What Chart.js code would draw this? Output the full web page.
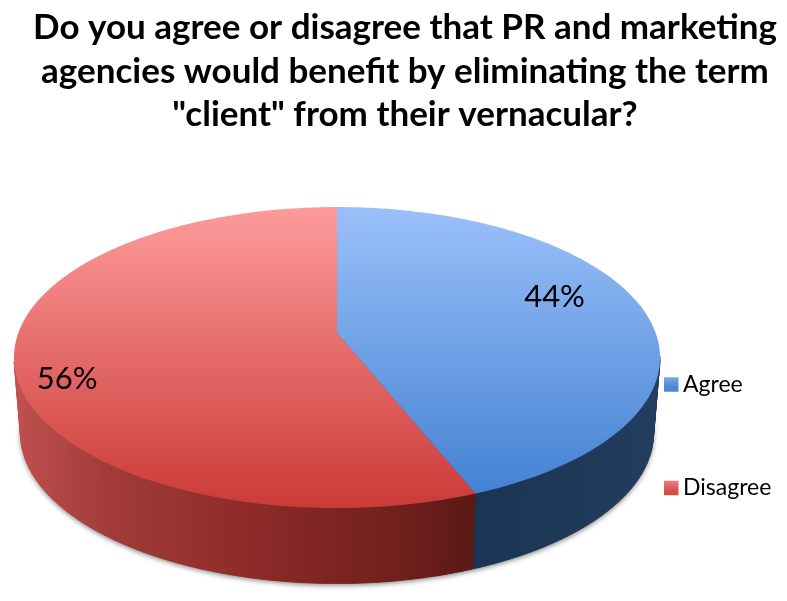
<!DOCTYPE html>
<html>
<head>
<meta charset="utf-8">
<title>Agree or disagree</title>
<script src="https://cdn.jsdelivr.net/npm/chart.js@4"></script>
<style>
  html, body { margin: 0; background: #fff; }
  canvas { display: block; }
</style>
</head>
<body>
<canvas id="pie3d" width="787" height="601"></canvas>
<script>
// data
const categories = ["Agree", "Disagree"];
const shares = [44, 56];
const titleLines = [
  "Do you agree or disagree that PR and marketing",
  "agencies would benefit by eliminating the term",
  "\"client\" from their vernacular?"
];

// ========= Look of the tilted pie =========
const FONT = "Lato, 'Open Sans', sans-serif";
const VIEW = { cx: 337, cy: 333, a: 318.7, b: 146.5, k: 0.163, depth: 75.5, floorScale: 0.98 };
const topColors = [["#9bc0fa", "#3f7fd0"], ["#fe9b9b", "#cb3a37"]];
const wallColors = [
  [[0, "#1a3454"], [1, "#223d5d"]],
  [[0, "#c0504e"], [0.2, "#a33c39"], [0.5, "#8f2b29"], [0.85, "#6e1f1c"], [1, "#5a1916"]]
];
const legendColors = [["#8fb4ec", "#4c86d6"], ["#f28b8a", "#d64a47"]];
const labelPlace = [{ f: 0.71, dy: -17 }, { f: 0.84, dy: 22 }];

// circle point at canvas angle -> picture, with the far side foreshortened
function project(angle, f = 1) {
  const X = f * Math.cos(angle), Y = f * Math.sin(angle);
  const w = 1 / (1 - VIEW.k * Y);
  return { x: VIEW.cx + VIEW.a * X * w, y: VIEW.cy + VIEW.b * Y * w };
}
function floorPoint(angle) {
  const p = project(angle);
  return { x: VIEW.cx + (p.x - VIEW.cx) * VIEW.floorScale, y: p.y + VIEW.depth };
}
function sweep(arc, fn) {
  const n = 120;
  for (let i = 0; i <= n; i++) {
    fn(arc.startAngle + (arc.endAngle - arc.startAngle) * i / n);
  }
}
// the rim is widest at sin(angle) = k, the wall only shows in front of that
const wallShows = (a) => Math.sin(a) >= VIEW.k;

const tiltedPie = {
  id: "tiltedPie",
  afterLayout(chart) {
    // title sits right of the page centre, legend right of the pie
    chart.titleBlock.left = 23;
    const pad = chart.legend.options.labels.padding;
    chart.legend.left = 671 - pad;
    chart.legend.top = 352 - pad;
    chart.legend.right = 787;
    chart.legend.bottom = 601;
  },
  beforeDatasetDraw(chart) {
    const ctx = chart.ctx;
    const arcs = chart.getDatasetMeta(0).data;

    // soft shadow under the wall
    ctx.save();
    ctx.shadowColor = "rgba(60,60,60,0.6)";
    ctx.shadowBlur = 5;
    ctx.shadowOffsetY = 2;
    ctx.fillStyle = "#555";
    ctx.beginPath();
    for (let a = 0; a <= 360; a += 2) {
      const p = floorPoint(a * Math.PI / 180);
      ctx.lineTo(p.x, p.y);
    }
    ctx.fill();
    ctx.restore();

    // side wall, one quad at a time so the outline stays tangent to the rim
    arcs.forEach((arc, i) => {
      let minX = Infinity, maxX = -Infinity;
      sweep(arc, (a) => {
        if (!wallShows(a)) return;
        const x = project(a).x;
        minX = Math.min(minX, x);
        maxX = Math.max(maxX, x);
      });
      const g = ctx.createLinearGradient(minX, 0, maxX, 0);
      wallColors[i].forEach(([s, c]) => g.addColorStop(s, c));
      ctx.fillStyle = g;
      ctx.strokeStyle = g;
      ctx.lineWidth = 0.8;
      let prev = null;
      sweep(arc, (a) => {
        const p = project(a), q = floorPoint(a);
        if (prev && wallShows(a)) {
          ctx.beginPath();
          ctx.moveTo(prev.p.x, prev.p.y);
          ctx.lineTo(p.x, p.y);
          ctx.lineTo(q.x, q.y);
          ctx.lineTo(prev.q.x, prev.q.y);
          ctx.closePath();
          ctx.fill();
          ctx.stroke();
        }
        prev = { p, q };
      });
    });

    // top face
    const top = project(-Math.PI / 2).y, bottom = project(Math.PI / 2).y;
    arcs.forEach((arc, i) => {
      const g = ctx.createLinearGradient(0, top, 0, bottom);
      g.addColorStop(0, topColors[i][0]);
      g.addColorStop(1, topColors[i][1]);
      ctx.beginPath();
      ctx.moveTo(VIEW.cx, VIEW.cy);
      sweep(arc, (a) => {
        const p = project(a);
        ctx.lineTo(p.x, p.y);
      });
      ctx.closePath();
      ctx.fillStyle = g;
      ctx.fill();
    });

    // the library's flat arcs are replaced by the tilted ones above
    return false;
  },
  afterDatasetsDraw(chart) {
    const ctx = chart.ctx;
    ctx.save();
    ctx.font = "31px " + FONT;
    ctx.fillStyle = "#000";
    ctx.textAlign = "center";
    ctx.textBaseline = "middle";
    chart.getDatasetMeta(0).data.forEach((arc, i) => {
      const mid = (arc.startAngle + arc.endAngle) / 2;
      const p = project(mid, labelPlace[i].f);
      ctx.fillText(shares[i] + "%", p.x, p.y + labelPlace[i].dy);
    });
    ctx.restore();
  }
};

new Chart(document.getElementById("pie3d"), {
  type: "pie",
  data: {
    labels: categories,
    datasets: [{
      data: shares,
      backgroundColor: topColors.map((c) => c[1]),
      borderWidth: 0
    }]
  },
  options: {
    responsive: false,
    animation: false,
    plugins: {
      tooltip: { enabled: false },
      title: {
        display: true,
        text: titleLines,
        color: "#000",
        font: { family: FONT, size: 35, weight: "bold", lineHeight: 1.243 },
        padding: { top: 6, bottom: 10 }
      },
      legend: {
        position: "right",
        labels: {
          // tiny box + fat stroke: gives the 14px swatch with the text close to it
          boxWidth: 0.5,
          boxHeight: 0.5,
          padding: 80.4,
          color: "#000",
          font: { family: FONT, size: 23 },
          generateLabels(chart) {
            return categories.map((name, i) => {
              const y = 373 + i * 105;
              const g = chart.ctx.createLinearGradient(0, y, 0, y + 14);
              g.addColorStop(0, legendColors[i][0]);
              g.addColorStop(1, legendColors[i][1]);
              return { text: name, fillStyle: g, strokeStyle: g, lineWidth: 14, index: i };
            });
          }
        }
      }
    }
  },
  plugins: [tiltedPie]
});
</script>
</body>
</html>
